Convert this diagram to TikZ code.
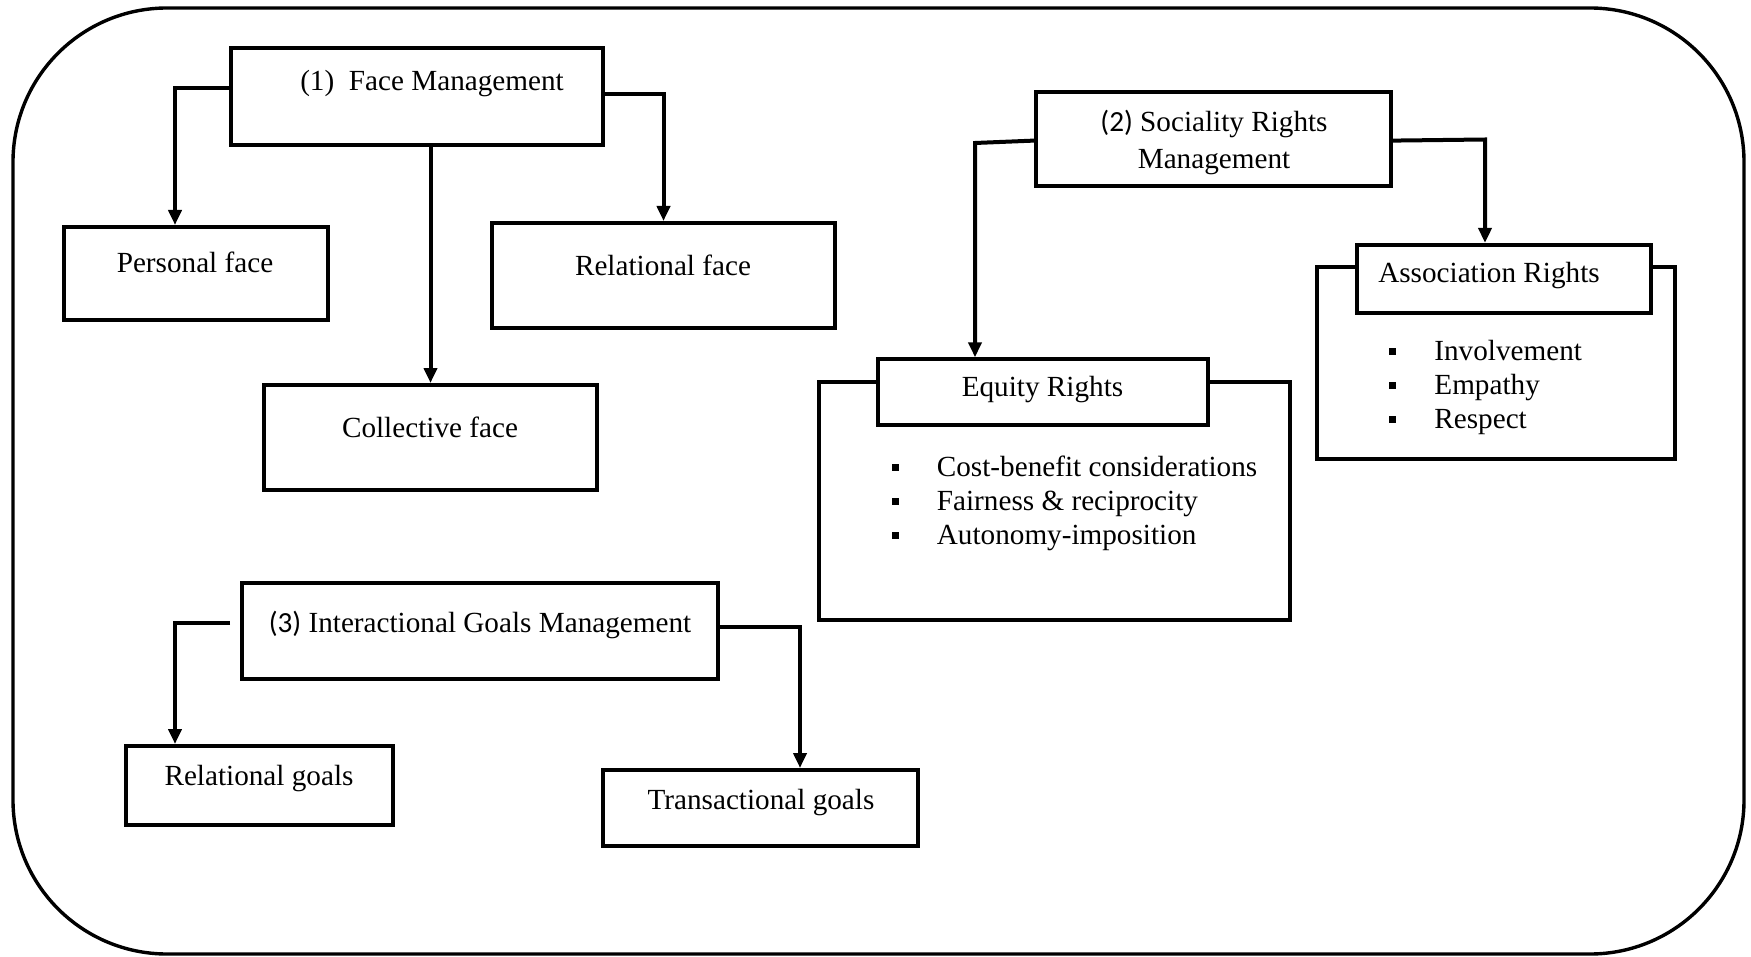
\documentclass[tikz,border=0pt]{standalone}
\usepackage{fontspec}
\setmainfont{Liberation Serif}
\newfontfamily\carl{Carlito}
\usepackage{tikz}
\usetikzlibrary{arrows.meta,positioning,calc}
\newcommand{\bul}{\makebox[22.5pt][l]{\raisebox{2.6pt}{\rule{3.5pt}{3.5pt}}}}
\tikzset{box/.style={draw,line width=2pt,inner sep=0pt,fill=white},
  lbl/.style={inner sep=0pt,font=\fontsize{14.6}{17}\selectfont},
  blist/.style={lbl,align=left,anchor=west},
  arr/.style={-{Triangle[length=7.5pt,width=6.5pt]},line width=2pt}}

\begin{document}
\begin{tikzpicture}[x=0.5pt,y=-0.5pt]
\useasboundingbox (0,0) rectangle (1751,957);
\draw[line width=1.7pt,rounded corners=77pt] (13,8) rectangle (1744,954);
\node[box,minimum width=186pt,minimum height=48.5pt] (fm) at (417,96.5){};
\node[lbl] (t-fm) at (432,84){(1)\ \ Face Management};
\node[box,minimum width=132pt,minimum height=46.5pt] (pf) at (196,273.5){};
\node[lbl] (t-pf) at (195,262){Personal face};
\node[box,minimum width=171.5pt,minimum height=52.5pt] (rf) at (663.5,275.5){};
\node[lbl] (t-rf) at (663,265){Relational face};
\node[box,minimum width=166.5pt,minimum height=52.5pt] (cf) at (430.5,437.5){};
\node[lbl] (t-cf) at (430,427){Collective face};
\draw[arr] ($(fm.west)+(0,-8.5)$) -| ($(pf.north)+(-21,0)$);
\draw[arr] ($(fm.east)+(0,-2.5)$) -| (rf.north);
\draw[arr] (fm.south -| cf.north) -- (cf.north);
\node[box,minimum width=177.5pt,minimum height=47pt] (soc) at (1213.5,138.6){};
\node[lbl,align=center,font=\fontsize{14.6}{18.5}\selectfont] (t-soc) at (1214,142){{\carl (2)} Sociality Rights\\Management};
\node[box,minimum width=235.5pt,minimum height=119pt] (eqo) at (1054.5,501.2){};
\node[box,minimum width=164.75pt,minimum height=33pt] (eq) at (1042.75,392.3){};
\node[lbl] (t-eq) at (1042.5,390){Equity Rights};
\node[blist] (l-eq) at (891.5,503){\bul Cost-benefit considerations\\\bul Fairness \& reciprocity\\\bul Autonomy-imposition};
\node[box,minimum width=179pt,minimum height=96pt] (aso) at (1496,363){};
\node[box,minimum width=147pt,minimum height=34pt] (as) at (1504,278.9){};
\node[lbl] (t-as) at (1489,276){Association Rights};
\node[blist] (l-as) at (1389,387){\bul Involvement\\\bul Empathy\\\bul Respect};
\coordinate (sl) at (975,143); \coordinate (sr) at (1485,139.5);
\draw[arr] ($(soc.west)+(0,2)$) -- (sl) -- (sl |- eq.north);
\draw[arr] ($(soc.east)+(0,2)$) -- (sr) -- (sr |- as.north);
\node[box,minimum width=238pt,minimum height=48pt] (ig) at (480,631){};
\node[lbl] (t-ig) at (480,625){{\carl (3)} Interactional Goals Management};
\node[box,minimum width=133.5pt,minimum height=39.5pt] (rg) at (259.5,785.5){};
\node[lbl] (t-rg) at (259,779){Relational goals};
\node[box,minimum width=157.5pt,minimum height=38pt] (tg) at (760.5,808){};
\node[lbl] (t-tg) at (761,803){Transactional goals};
\draw[arr] ($(ig.west)+(-10,-8)$) -| ($(rg.north)+(-84.5,0)$);
\draw[arr] ($(ig.east)+(0,-4)$) -| ($(tg.north)+(39.5,0)$);
\end{tikzpicture}
\end{document}
